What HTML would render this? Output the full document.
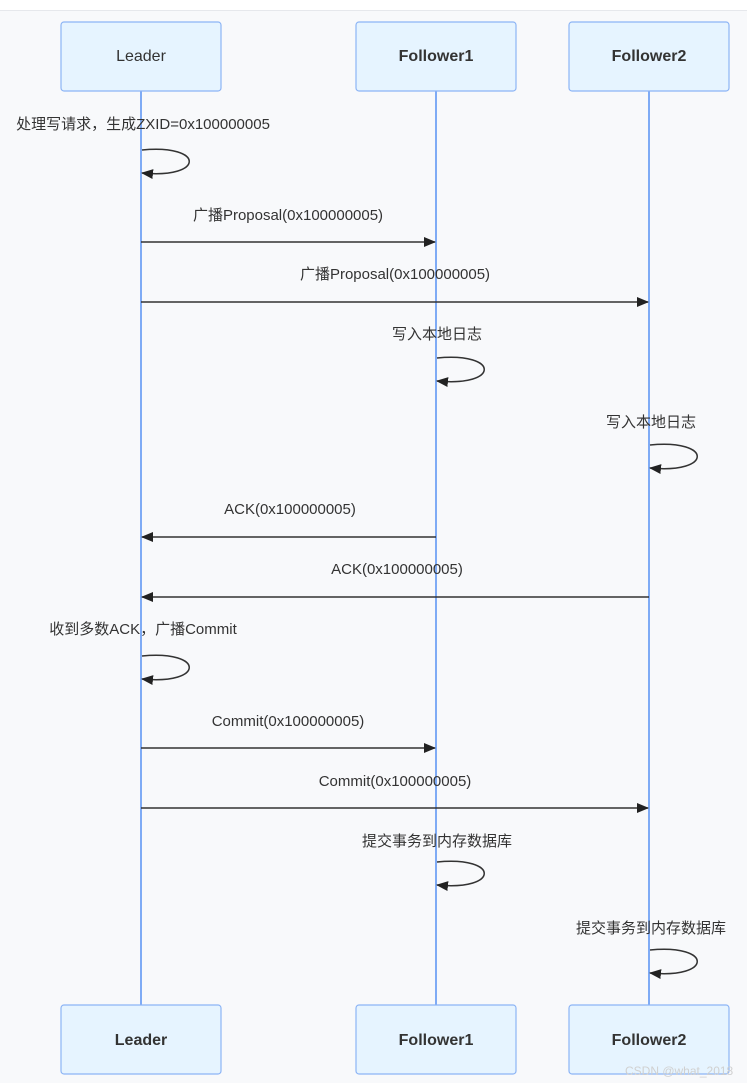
<!DOCTYPE html>
<html><head><meta charset="utf-8"><style>
body{margin:0;background:#fff;}
svg text{font-family:"Liberation Sans","Noto Sans CJK SC",sans-serif;font-size:15px;fill:#333;}
</style></head><body>
<svg width="747" height="1083" xmlns="http://www.w3.org/2000/svg">
<defs><marker id="a" markerWidth="12" markerHeight="12" refX="11" refY="6" orient="auto" markerUnits="userSpaceOnUse"><path d="M0,1 L12,6 L0,11 z" fill="#222"/></marker></defs>
<rect x="0" y="0" width="747" height="10" fill="#fff"/>
<rect x="0" y="10" width="747" height="1073" fill="#f8f9fb"/>
<line x1="0" y1="10.5" x2="747" y2="10.5" stroke="#e6e8ec"/>
<g stroke="#7fabf5" stroke-width="2"><line x1="141" y1="91" x2="141" y2="1005"/><line x1="436" y1="91" x2="436" y2="1005"/><line x1="649" y1="91" x2="649" y2="1005"/></g>
<g fill="#e6f4ff" stroke="#8cb4f5" stroke-width="1.2">
<rect x="61" y="22" width="160" height="69" rx="3"/><rect x="356" y="22" width="160" height="69" rx="3"/><rect x="569" y="22" width="160" height="69" rx="3"/>
<rect x="61" y="1005" width="160" height="69" rx="3"/><rect x="356" y="1005" width="160" height="69" rx="3"/><rect x="569" y="1005" width="160" height="69" rx="3"/>
</g>
<g text-anchor="middle" font-weight="bold">
<text x="141" y="61" style="font-weight:normal;font-size:16px">Leader</text><text x="436" y="61" style="font-size:16px">Follower1</text><text x="649" y="61" style="font-size:16px">Follower2</text>
<text x="141" y="1045" style="font-size:16px">Leader</text><text x="436" y="1045" style="font-size:16px">Follower1</text><text x="649" y="1045" style="font-size:16px">Follower2</text>
</g>
<g fill="none" stroke="#333" stroke-width="1.5" marker-end="url(#a)">
<path d="M142,150 C205,144 205,179 142,173"/>
<path d="M437,358 C500,352 500,387 437,381"/>
<path d="M650,445 C713,439 713,474 650,468"/>
<path d="M142,656 C205,650 205,685 142,679"/>
<path d="M437,862 C500,856 500,891 437,885"/>
<path d="M650,950 C713,944 713,979 650,973"/>
<line x1="141" y1="242" x2="435" y2="242"/>
<line x1="141" y1="302" x2="648" y2="302"/>
<line x1="436" y1="537" x2="142" y2="537"/>
<line x1="649" y1="597" x2="142" y2="597"/>
<line x1="141" y1="748" x2="435" y2="748"/>
<line x1="141" y1="808" x2="648" y2="808"/>
</g>
<g text-anchor="middle">
<text x="143" y="129">处理写请求，生成ZXID=0x100000005</text>
<text x="288" y="220">广播Proposal(0x100000005)</text>
<text x="395" y="279">广播Proposal(0x100000005)</text>
<text x="437" y="339">写入本地日志</text>
<text x="651" y="427">写入本地日志</text>
<text x="290" y="514">ACK(0x100000005)</text>
<text x="397" y="574">ACK(0x100000005)</text>
<text x="143" y="634">收到多数ACK，广播Commit</text>
<text x="288" y="726">Commit(0x100000005)</text>
<text x="395" y="786">Commit(0x100000005)</text>
<text x="437" y="846">提交事务到内存数据库</text>
<text x="651" y="933">提交事务到内存数据库</text>
</g>
<text x="625" y="1075" style="font-size:12px;fill:#d0d0d0">CSDN @what_2018</text>
</svg>
</body></html>
